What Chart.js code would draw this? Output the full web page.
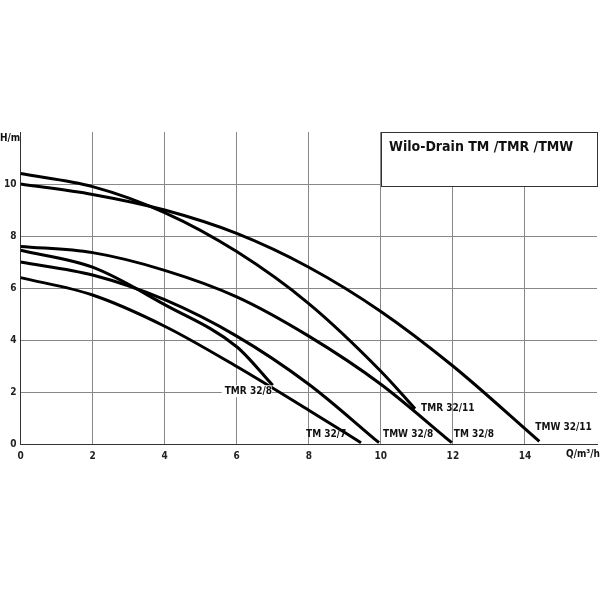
<!DOCTYPE html>
<html><head><meta charset="utf-8">
<script src="https://cdn.jsdelivr.net/npm/chart.js@4/dist/chart.umd.min.js"></script>
<style>html,body{margin:0;background:#fff}</style>
</head><body><canvas id="c" width="600" height="600"></canvas>
<script>
const names = ['TMW 32/11', 'TMR 32/11', 'TM 32/8', 'TMW 32/8', 'TMR 32/8', 'TM 32/7'];
const tmw3211 = [[0,10.0],[2,9.6],[4,9.0],[6,8.1],[8,6.8],[10,5.1],[12,3.0],[14.4,0.1]];
const tmr3211 = [[0,10.4],[2,9.9],[4,8.9],[6,7.4],[8,5.4],[10,2.8],[10.95,1.36]];
const tm328 = [[0,7.6],[2,7.36],[4,6.68],[6,5.66],[8,4.15],[10,2.3],[11.97,0.05]];
const tmw328 = [[0,7.0],[2,6.5],[4,5.55],[6,4.15],[8,2.3],[9.95,0.05]];
const tmr328 = [[0,7.45],[2,6.8],[4,5.36],[6,3.74],[7,2.26]];
const tm327 = [[0,6.4],[2,5.73],[4,4.53],[6,2.98],[8,1.3],[9.45,0.05]];
const series = [tmw3211, tmr3211, tm328, tmw328, tmr328, tm327];
const xTicks = [0, 2, 4, 6, 8, 10, 12, 14];
const yTicks = [0, 2, 4, 6, 8, 10];
// label offsets from curve end (px)
const labelOff = [[-4,-14],[6,0],[2,-8],[4,-8],[-48,6],[-55,-8]];

const labels = {
  id: 'labels',
  afterDatasetsDraw(chart) {
    const {ctx, chartArea: a, scales: {x, y}} = chart;
    ctx.save();
    ctx.font = 'bold 10px "DejaVu Sans Condensed", "Liberation Sans", sans-serif';
    ctx.fillStyle = '#111';
    ctx.textBaseline = 'middle';
    series.forEach((s, i) => {
      const e = s[s.length - 1];
      const px = x.getPixelForValue(e[0]) + labelOff[i][0];
      const py = y.getPixelForValue(e[1]) + labelOff[i][1];
      if (i === 4) {
        ctx.fillStyle = '#fff';
        ctx.fillRect(px - 3, py - 6, 50, 12);
        ctx.fillStyle = '#111';
      }
      ctx.fillText(names[i], px, py);
    });
    // title box
    ctx.fillStyle = '#fff';
    ctx.fillRect(381, a.top, a.right - 381, 54);
    ctx.strokeStyle = '#333';
    ctx.lineWidth = 1;
    ctx.strokeRect(381.5, a.top + 0.5, a.right - 381, 54);
    ctx.fillStyle = '#111';
    ctx.font = 'bold 14px "DejaVu Sans Condensed", "Liberation Sans", sans-serif';
    ctx.fillText('Wilo-Drain TM /TMR /TMW', 389, a.top + 15);
    ctx.font = 'bold 10px "DejaVu Sans Condensed", "Liberation Sans", sans-serif';
    ctx.fillText('H/m', 0, a.top + 6);
    ctx.textAlign = 'right';
    ctx.fillText('Q/m\u00b3/h', 600, a.bottom + 10);
    ctx.restore();
  }
};

new Chart(document.getElementById('c'), {
  type: 'line',
  data: {
    datasets: series.map((s, i) => ({
      label: names[i],
      data: s.map(p => ({x: p[0], y: p[1]})),
      borderColor: '#000',
      borderWidth: 3,
      pointRadius: 0,
      cubicInterpolationMode: 'monotone',
      fill: false
    }))
  },
  options: {
    responsive: false,
    animation: false,
    layout: {padding: {top: 132, right: 3, bottom: 132, left: 0}},
    plugins: {legend: {display: false}, tooltip: {enabled: false}},
    scales: {
      x: {
        type: 'linear', min: 0, max: 16,
        afterBuildTicks: s => { s.ticks = xTicks.map(v => ({value: v})); },
        grid: {color: '#888', drawTicks: false},
        border: {color: '#333'},
        ticks: {color: '#222', padding: 6, font: {size: 10, weight: 'bold', family: 'DejaVu Sans Condensed'}}
      },
      y: {
        min: 0, max: 12,
        afterBuildTicks: s => { s.ticks = yTicks.map(v => ({value: v})); },
        grid: {color: '#888', drawTicks: false},
        border: {color: '#333'},
        ticks: {color: '#222', padding: 4, font: {size: 10, weight: 'bold', family: 'DejaVu Sans Condensed'}}
      }
    }
  },
  plugins: [labels]
});
</script>
</body></html>
